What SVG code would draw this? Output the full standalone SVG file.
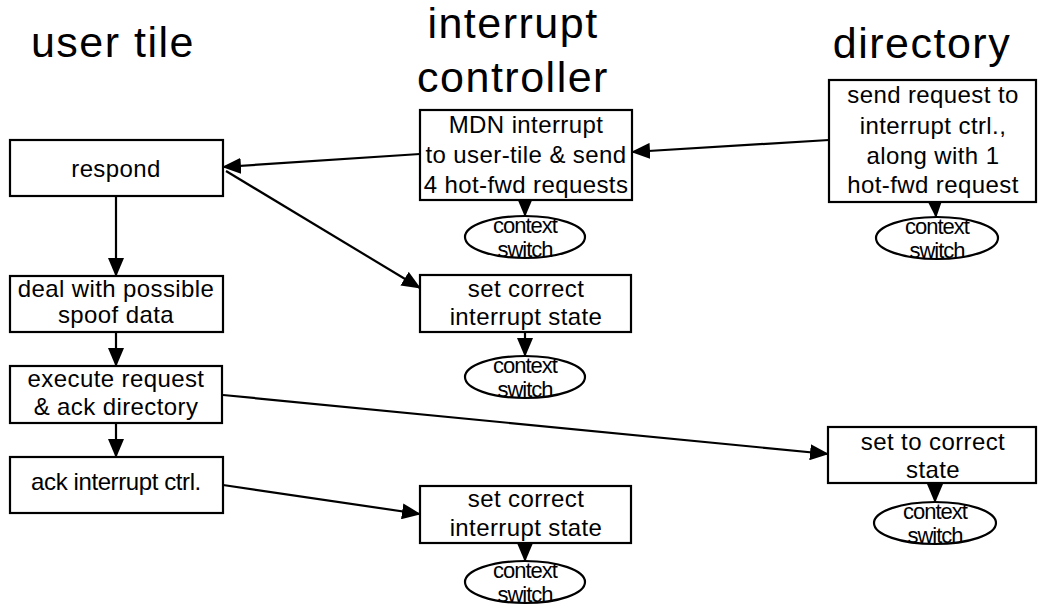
<svg xmlns="http://www.w3.org/2000/svg" width="1039" height="607" viewBox="0 0 1039 607">
  <style>
    .title { font-family: "Liberation Sans", Arial, sans-serif; font-size: 43px; letter-spacing: 1.5px; fill: #000; text-anchor: middle; }
    .box { fill: #fff; stroke: #000; stroke-width: 2.2; }
    .label { font-family: "Liberation Sans", Arial, sans-serif; font-size: 24px; letter-spacing: 0.4px; fill: #000; text-anchor: middle; }
    .oval { fill: #fff; stroke: #000; stroke-width: 2.2; }
    .small { font-family: "Liberation Sans", Arial, sans-serif; font-size: 22px; letter-spacing: -1px; fill: #000; text-anchor: middle; }
    .edge { fill: none; stroke: #000; stroke-width: 2.2; marker-end: url(#head); }
  </style>
  <defs>
    <marker id="head" markerUnits="userSpaceOnUse" markerWidth="19" markerHeight="16" refX="18" refY="8" orient="auto">
      <path d="M0,0 L19,8 L0,16 z" fill="#000"/>
    </marker>
  </defs>
  <rect width="1039" height="607" fill="#fff"/>

  <!-- column headings -->
  <g id="headings">
    <text class="title" x="113" y="57">user tile</text>
    <text class="title" x="513" y="38">interrupt</text>
    <text class="title" x="513" y="92">controller</text>
    <text class="title" x="922" y="58">directory</text>
  </g>

  <!-- connectors -->
  <g id="connectors">
    <line class="edge" x1="116" y1="196" x2="116" y2="276"/>
    <line class="edge" x1="116" y1="332" x2="116" y2="366"/>
    <line class="edge" x1="116" y1="423" x2="116" y2="457"/>
    <line class="edge" x1="420" y1="154" x2="223" y2="167"/>
    <line class="edge" x1="226" y1="171" x2="420" y2="288"/>
    <line class="edge" x1="829" y1="140" x2="632" y2="152"/>
    <line class="edge" x1="525" y1="200" x2="525" y2="216"/>
    <line class="edge" x1="935" y1="202" x2="936" y2="217"/>
    <line class="edge" x1="525" y1="332" x2="525" y2="356"/>
    <line class="edge" x1="223" y1="395" x2="828" y2="454"/>
    <line class="edge" x1="223" y1="485" x2="420" y2="514"/>
    <line class="edge" x1="935" y1="483" x2="935" y2="502"/>
    <line class="edge" x1="525" y1="543" x2="525" y2="561"/>
  </g>

  <!-- user tile column -->
  <g id="respond">
    <rect class="box" x="10" y="140" width="213" height="56"/>
    <text class="label" x="116" y="177">respond</text>
  </g>
  <g id="spoof-data">
    <rect class="box" x="10" y="276" width="213" height="56"/>
    <text class="label" x="116" y="297">deal with possible</text>
    <text class="label" x="116" y="323">spoof data</text>
  </g>
  <g id="execute-request">
    <rect class="box" x="10" y="366" width="212" height="57"/>
    <text class="label" x="116" y="387">execute request</text>
    <text class="label" x="116" y="415">&amp; ack directory</text>
  </g>
  <g id="ack-interrupt">
    <rect class="box" x="10" y="457" width="213" height="56"/>
    <text class="label" x="116" y="490" style="letter-spacing:-0.4px">ack interrupt ctrl.</text>
  </g>

  <!-- interrupt controller column -->
  <g id="mdn-interrupt">
    <rect class="box" x="420" y="110" width="212" height="90"/>
    <text class="label" x="526" y="133">MDN interrupt</text>
    <text class="label" x="526" y="163">to user-tile &amp; send</text>
    <text class="label" x="526" y="193">4 hot-fwd requests</text>
  </g>
  <g id="ctx-1">
    <ellipse class="oval" cx="525" cy="237" rx="60" ry="21"/>
    <text class="small" x="525" y="233">context</text>
    <text class="small" x="525" y="257">switch</text>
  </g>
  <g id="set-state-1">
    <rect class="box" x="420" y="275" width="211" height="57"/>
    <text class="label" x="526" y="297">set correct</text>
    <text class="label" x="526" y="325">interrupt state</text>
  </g>
  <g id="ctx-2">
    <ellipse class="oval" cx="525" cy="377" rx="60" ry="21"/>
    <text class="small" x="525" y="373">context</text>
    <text class="small" x="525" y="397">switch</text>
  </g>
  <g id="set-state-2">
    <rect class="box" x="420" y="486" width="211" height="57"/>
    <text class="label" x="526" y="507">set correct</text>
    <text class="label" x="526" y="536">interrupt state</text>
  </g>
  <g id="ctx-3">
    <ellipse class="oval" cx="525" cy="582" rx="60" ry="21"/>
    <text class="small" x="525" y="578">context</text>
    <text class="small" x="525" y="602">switch</text>
  </g>

  <!-- directory column -->
  <g id="send-request">
    <rect class="box" x="829" y="80" width="207" height="122"/>
    <text class="label" x="933" y="103">send request to</text>
    <text class="label" x="933" y="134">interrupt ctrl.,</text>
    <text class="label" x="933" y="164">along with 1</text>
    <text class="label" x="933" y="193">hot-fwd request</text>
  </g>
  <g id="ctx-4">
    <ellipse class="oval" cx="937" cy="238" rx="61" ry="21"/>
    <text class="small" x="937" y="234">context</text>
    <text class="small" x="937" y="258">switch</text>
  </g>
  <g id="set-to-state">
    <rect class="box" x="828" y="427" width="208" height="56"/>
    <text class="label" x="933" y="450">set to correct</text>
    <text class="label" x="933" y="478">state</text>
  </g>
  <g id="ctx-5">
    <ellipse class="oval" cx="935" cy="523" rx="61" ry="21"/>
    <text class="small" x="935" y="519">context</text>
    <text class="small" x="935" y="543">switch</text>
  </g>
</svg>
